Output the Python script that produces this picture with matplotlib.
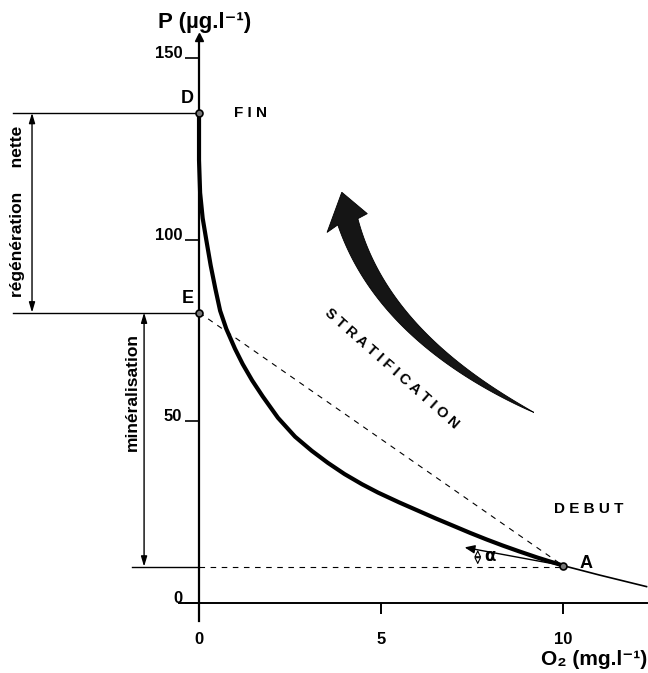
import numpy as np
import matplotlib
matplotlib.use("Agg")
import matplotlib.pyplot as plt
from matplotlib.patches import Polygon

plt.rcParams['font.family'] = ['Liberation Sans', 'DejaVu Sans']
plt.rcParams['font.weight'] = 'bold'

# curve P = f(O2)
o2_curve = [0.0, 0.0, 0.03, 0.1, 0.2, 0.32, 0.45, 0.58, 0.75, 0.99, 1.2,
            1.46, 1.75, 2.17, 2.64, 3.1, 3.54, 4.0, 4.48, 4.92, 5.5, 6.0,
            6.5, 7.0, 7.45, 7.9, 8.35, 8.8, 9.3, 9.65, 10.0]
p_curve = [135, 122, 113, 106, 100, 93, 86.5, 80.5, 75.5, 70, 65.8,
           61.3, 56.9, 51.0, 45.8, 41.9, 38.6, 35.5, 32.7, 30.4, 27.7, 25.5,
           23.3, 21.2, 19.3, 17.5, 15.8, 14.2, 12.5, 11.4, 10.3]
# thin continuation after A
o2_ext = [10.0, 11.0, 12.3]
p_ext = [10.3, 7.7, 4.5]

# labelled points
pt_D = (0, 135)
pt_E = (0, 80)
pt_A = (10, 10.3)
p_base = 10  # horizontal reference through A

yticks = [0, 50, 100, 150]
xticks = [0, 5, 10]


def bezier(p0, p1, p2, t):
    p0, p1, p2 = map(np.asarray, (p0, p1, p2))
    t = t[:, None]
    return (1 - t) ** 2 * p0 + 2 * (1 - t) * t * p1 + t ** 2 * p2


def main():
    fig = plt.figure(figsize=(6.48, 6.73), dpi=100)
    ax = fig.add_axes([0, 0, 1, 1])
    ax.set_xlim(-5.47, 12.34)
    ax.set_ylim(-19.3, 166.1)

    # axes through origin
    for s in ["top", "right"]:
        ax.spines[s].set_visible(False)
    ax.spines["left"].set_position(("data", 0))
    ax.spines["bottom"].set_position(("data", 0))
    ax.spines["left"].set_bounds(-5, 156)
    ax.spines["bottom"].set_bounds(-0.55, 12.3)
    ax.spines["left"].set_linewidth(1.6)
    ax.spines["bottom"].set_linewidth(1.4)
    ax.plot(0, 156, marker="^", ms=6, color="k", clip_on=False)

    ax.set_yticks(yticks)
    ax.set_yticklabels([str(v) for v in yticks])
    ax.set_xticks(xticks)
    ax.set_xticklabels([str(v) for v in xticks])
    ax.tick_params(axis="y", direction="out", length=10, width=1.2, pad=2,
                   labelsize=12)
    ax.tick_params(axis="x", direction="out", length=8, width=1.4, pad=13,
                   labelsize=12)
    for lab in ax.get_yticklabels():
        lab.set_va("baseline")
        lab.set_fontweight("bold")
    for lab in ax.get_xticklabels():
        lab.set_fontweight("bold")

    # main curve
    ax.plot(o2_curve, p_curve, color="k", lw=3, solid_capstyle="round",
            solid_joinstyle="round")
    ax.plot(o2_ext, p_ext, color="k", lw=1.2)

    # dashed guides
    ax.plot([pt_E[0], pt_A[0]], [pt_E[1], pt_A[1]], color="k", lw=0.8,
            ls=(0, (5, 5)))
    ax.plot([0, pt_A[0]], [p_base, p_base], color="k", lw=0.8,
            ls=(0, (5, 5)))

    # solid reference lines at left
    ax.plot([-5.1, 0], [pt_D[1], pt_D[1]], color="k", lw=1.0)
    ax.plot([-5.1, 0], [pt_E[1], pt_E[1]], color="k", lw=1.0)
    ax.plot([-1.85, 0], [p_base, p_base], color="k", lw=1.0)

    # points
    for p in (pt_D, pt_E, pt_A):
        ax.plot(p[0], p[1], marker="o", ms=5, mfc="#777777", mec="k",
                mew=1.2, zorder=5)

    txt = dict(fontweight="bold", color="k")
    ax.text(-0.15, 136.5, "D", ha="right", va="bottom", fontsize=13, **txt)
    ax.text(-0.15, 81.5, "E", ha="right", va="bottom", fontsize=13, **txt)
    ax.text(10.45, 10.8, "A", ha="left", va="center", fontsize=13, **txt)
    ax.text(0.95, 135, "F I N", ha="left", va="center", fontsize=11, **txt)
    ax.text(9.75, 26, "D E B U T", ha="left", va="center", fontsize=11, **txt)

    # double arrows
    arr = dict(arrowstyle="<|-|>,head_length=0.6,head_width=0.18",
               color="k", lw=1.0, shrinkA=0, shrinkB=0)
    ax.annotate("", xy=(-4.59, pt_D[1]), xytext=(-4.59, pt_E[1]),
                arrowprops=arr)
    ax.annotate("", xy=(-1.51, pt_E[1]), xytext=(-1.51, p_base),
                arrowprops=arr)
    ax.text(-5.0, 108, "régénération     nette", rotation=90, ha="center",
            va="center", fontsize=12.5, **txt)
    ax.text(-1.83, 58, "minéralisation", rotation=90, ha="center",
            va="center", fontsize=12.5, **txt)

    # tangent at A and angle alpha
    ax.annotate("", xy=(7.3, 15.3), xytext=pt_A,
                arrowprops=dict(arrowstyle="-|>,head_length=0.6,head_width=0.25",
                                color="k", lw=1.0, shrinkA=0, shrinkB=0))
    ax.annotate("", xy=(7.66, 14.6), xytext=(7.66, 10.6),
                arrowprops=dict(arrowstyle="<|-|>,head_length=0.4,head_width=0.2",
                                fc="white", ec="k", lw=0.8, shrinkA=0,
                                shrinkB=0))
    ax.text(7.85, 12.8, "α", ha="left", va="center", fontsize=12,
            family="DejaVu Sans")

    # axis titles
    ax.text(0.15, 160, "P (µg.l⁻¹)", ha="center", va="center", fontsize=16,
            **txt)
    ax.text(10.85, -15.6, "O₂ (mg.l⁻¹)", ha="center", va="center",
            fontsize=15, **txt)

    # big curved arrow
    T = ax.transData
    t = np.linspace(0, 1, 80)
    cl = T.transform(bezier((9.2, 52.5), (5.05, 73.3), (4.09, 105.0), t))
    d = np.gradient(cl, axis=0)
    d = d / np.linalg.norm(d, axis=1)[:, None]
    nrm = np.column_stack([-d[:, 1], d[:, 0]])
    w = 10.5 * t ** 0.8
    left = cl + nrm * w[:, None]
    right = cl - nrm * w[:, None]
    base = cl[-1]
    dd = d[-1]
    nn = nrm[-1]
    tip = base + dd * 30 - nn * 3
    wing1 = base + nn * 23 - dd * 4
    wing2 = base - nn * 21 + dd * 2
    poly = np.vstack([left, [wing1, tip, wing2], right[::-1]])
    poly = T.inverted().transform(poly)
    ax.add_patch(Polygon(poly, closed=True, fc="#151515", ec="k", lw=0.6))

    ax.text(5.3, 64.5, "S T R A T I F I C A T I O N", rotation=-41.5,
            rotation_mode="anchor", ha="center", va="center", fontsize=10.5,
            **txt)

    fig.savefig("out.png", dpi=100)
    plt.close()


if __name__ == "__main__":
    main()
